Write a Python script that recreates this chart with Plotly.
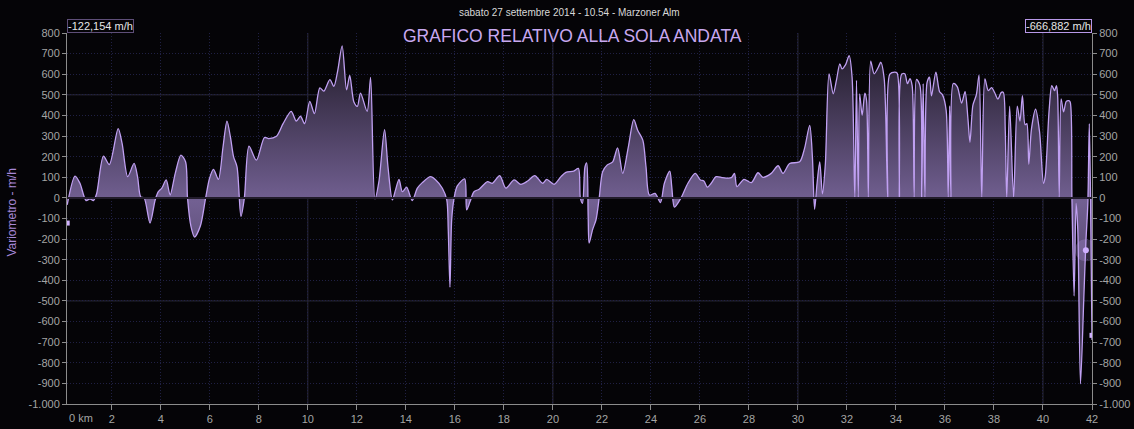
import plotly.graph_objects as go

# distanza (km) e variometro (m/h)
km = [
    0.18, 0.50, 0.70, 0.95, 1.11, 1.25, 1.38, 1.66, 1.90, 2.26, 2.42, 2.65, 2.91, 3.05, 3.18, 3.32,
    3.56, 3.77, 3.90, 4.04, 4.22, 4.38, 4.59, 4.82, 5.01, 5.09, 5.23, 5.38, 5.61, 5.83, 5.99, 6.15,
    6.35, 6.54, 6.70, 6.84, 6.97, 7.11, 7.27, 7.41, 7.60, 7.90, 8.23, 8.40, 8.72, 8.99, 9.32, 9.53,
    9.70, 9.87, 10.08, 10.27, 10.49, 10.65, 10.90, 11.06, 11.22, 11.40, 11.58, 11.71, 11.88, 12.02,
    12.15, 12.42, 12.56, 12.74, 12.90, 13.13, 13.27, 13.45, 13.58, 13.72, 13.86, 14.03, 14.26, 14.47,
    14.67, 15.01, 15.22, 15.49, 15.67, 15.73, 15.80, 15.87, 15.97, 16.10, 16.40, 16.48, 16.62, 16.78,
    16.99, 17.33, 17.53, 17.83, 18.08, 18.42, 18.69, 18.97, 19.26, 19.58, 19.75, 20.05, 20.33, 20.53,
    20.85, 21.04, 21.12, 21.21, 21.31, 21.38, 21.44, 21.48, 21.62, 21.76, 21.89, 22.03, 22.21, 22.44,
    22.64, 22.85, 23.08, 23.30, 23.46, 23.67, 23.80, 23.94, 24.17, 24.39, 24.55, 24.77, 24.85, 24.96,
    25.23, 25.51, 25.81, 26.02, 26.16, 26.30, 26.46, 26.66, 26.94, 27.28, 27.41, 27.51, 27.80, 28.10,
    28.37, 28.57, 28.91, 29.19, 29.39, 29.66, 30.07, 30.27, 30.48, 30.59, 30.68, 30.78, 30.89, 31.00,
    31.12, 31.27, 31.44, 31.57, 31.71, 31.80, 31.94, 32.09, 32.21, 32.32, 32.39, 32.46, 32.52, 32.62,
    32.73, 32.80, 32.87, 32.97, 33.11, 33.28, 33.38, 33.52, 33.66, 33.75, 33.95, 34.05, 34.14, 34.23,
    34.36, 34.47, 34.57, 34.66, 34.74, 34.84, 34.98, 35.05, 35.11, 35.18, 35.27, 35.37, 35.45, 35.63,
    35.78, 35.90, 36.05, 36.13, 36.19, 36.24, 36.34, 36.50, 36.68, 36.82, 36.94, 37.02, 37.14, 37.28,
    37.39, 37.50, 37.63, 37.77, 37.90, 38.03, 38.16, 38.30, 38.38, 38.46, 38.52, 38.64, 38.80, 38.95,
    39.06, 39.16, 39.27, 39.34, 39.42, 39.53, 39.70, 39.86, 40.02, 40.09, 40.25, 40.36, 40.47, 40.55,
    40.60, 40.66, 40.74, 40.84, 40.95, 41.05, 41.11, 41.18, 41.27, 41.35, 41.42, 41.53, 41.66, 41.75,
    41.83, 41.89, 41.94, 42.00,
]
vario = [
    -34, 106, 71, -13, -5, -13, 20, 203, 162, 336, 264, 103, 167, 103, 5, 0,
    -122, -10, 30, 47, 87, 14, 119, 207, 175, 0, -138, -190, -138, 0, 95, 138,
    90, 248, 372, 296, 199, 151, -90, 0, 251, 183, 293, 288, 299, 360, 420, 373,
    396, 360, 468, 409, 534, 518, 574, 541, 618, 738, 524, 594, 465, 444,
    508, 420, 585, -5, 79, 331, 151, -10, 39, 90, 30, 52, -13, 47,
    74, 103, 87, 47, -10, -154, -433, -106, 0, 58, 92, -58, -18, 30,
    42, 79, 71, 108, 47, 87, 66, 82, 108, 71, 90, 66, 103, 124,
    130, 143, 0, -26, 151, 170, -90, -219, -154, -106, 0, 127, 159, 175,
    243, 119, 248, 380, 328, 280, 151, 14, 22, -23, 71, 130, 55, -45,
    0, 71, 119, 87, 82, 52, 71, 103, 98, 98, 119, 55, 90, 74,
    122, 100, 119, 156, 119, 167, 175, 240, 352, 199, -55, 71, 175, 19,
    167, 602, 505, 570, 650, 626, 645, 690, 585, 0, 570, 0, 505, 400,
    508, 473, 0, 663, 602, 634, 658, 578, 0, 600, 610, 605, 0, 600,
    602, 554, 578, 545, 0, 575, 545, 0, 554, 0, 560, 586, 495, 610,
    515, 500, 423, 0, 447, 0, 555, 540, 460, 515, 380, 270, 450, 500,
    595, 0, 577, 520, 535, 510, 480, 512, 512, 330, 0, 445, 0, 445,
    372, 496, 355, 360, 163, 335, 430, 320, 71, 103, 425, 545, 520, 545,
    490, 0, 480, 417, 468, 472, 465, 0, -476, -27, -154, -902, -506, -216,
    -30, 360, 0, -690,
]

# cursori
start_km = [0.18]
start_val = [-122.154]
end_km = [42.0]
end_val = [-666.882]
cursor_km = [41.75]
cursor_val = [-254]

y_ticks = list(range(-1000, 900, 100))
y_labels = ['-1.000'] + [str(v) for v in range(-900, 900, 100)]
x_ticks = list(range(2, 43, 2))
major_x = [10, 20, 30, 40]
major_y = [500, -500]

bg = '#050407'
axis_col = '#8c8c8c'
minor_grid = '#202044'
tick_font = dict(family='Liberation Sans, Arial, sans-serif', size=11, color='#a4a4a4')

fig = go.Figure()

fig.add_trace(go.Scatter(
    x=km, y=vario,
    mode='lines',
    line=dict(color='#c0a0f2', width=1.3, shape='spline', smoothing=0.8),
    fill='tozeroy',
    fillgradient=dict(
        type='vertical', start=-1000, stop=800,
        colorscale=[[0, 'rgb(28,22,38)'], [0.556, 'rgb(114,96,146)'], [1, 'rgb(26,21,32)']],
    ),
    hoverinfo='skip',
))

fig.add_trace(go.Scatter(
    x=cursor_km, y=cursor_val, mode='markers',
    marker=dict(size=22, color='rgba(190,160,240,0.25)'), hoverinfo='skip'))
fig.add_trace(go.Scatter(
    x=cursor_km, y=cursor_val, mode='markers',
    marker=dict(size=6, color='#d0b0ff'), hoverinfo='skip'))
fig.add_trace(go.Scatter(
    x=start_km, y=start_val, mode='markers',
    marker=dict(size=5, symbol='square', color='#d0b0ff'), hoverinfo='skip'))
fig.add_trace(go.Scatter(
    x=end_km, y=end_val, mode='markers', yaxis='y2',
    marker=dict(size=5, symbol='square', color='#d0b0ff'), hoverinfo='skip'))

for x in major_x:
    fig.add_vline(x=x, line=dict(color='#2b2938', width=1), layer='below')
for y in major_y:
    fig.add_hline(y=y, line=dict(color='#2b2938', width=1), layer='below')
fig.add_hline(y=0, line=dict(color='#221c2b', width=2), layer='above')

yaxis_common = dict(
    range=[-1000, 800], tickvals=y_ticks, ticktext=y_labels,
    ticks='outside', ticklen=4, tickcolor=axis_col, tickfont=tick_font,
    showline=True, linecolor=axis_col, linewidth=1, zeroline=False, fixedrange=True,
)

fig.update_layout(
    width=1142, height=437,
    paper_bgcolor=bg, plot_bgcolor=bg,
    margin=dict(l=67, r=44, t=33, b=24),
    showlegend=False,
    font=dict(family='Liberation Sans, Arial, sans-serif', size=11, color='#a4a4a4'),
    xaxis=dict(
        range=[0.172, 42.0], tickvals=x_ticks, ticks='outside', ticklen=5,
        tickcolor=axis_col, tickfont=tick_font, showline=True, linecolor=axis_col,
        gridcolor=minor_grid, griddash='1px,2px', zeroline=False, fixedrange=True,
    ),
    yaxis=dict(**yaxis_common, showgrid=True, gridcolor=minor_grid, griddash='1px,2px'),
    yaxis2=dict(**yaxis_common, overlaying='y', side='right', showgrid=False),
    annotations=[
        dict(text='sabato 27 settembre 2014 - 10.54 - Marzoner Alm', xref='paper', yref='paper',
             x=0.4907, y=1.056, xanchor='center', yanchor='middle', showarrow=False,
             font=dict(size=10, color='#d8d8d8')),
        dict(text='GRAFICO RELATIVO ALLA SOLA ANDATA', xref='paper', yref='paper',
             x=0.4927, y=0.992, xanchor='center', yanchor='middle', showarrow=False,
             font=dict(size=17.5, color='#c8a8f0')),
        dict(text='Variometro - m/h', xref='paper', yref='paper', x=-0.054, y=0.515,
             xanchor='center', yanchor='middle', textangle=-90, showarrow=False,
             font=dict(size=12, color='#a888d8')),
        dict(text='0 km', xref='paper', yref='paper', x=0, y=-0.0375, xanchor='left',
             yanchor='middle', showarrow=False, font=tick_font),
        dict(text='-122,154 m/h', xref='paper', yref='paper', x=0, y=1, xanchor='left',
             yanchor='bottom', showarrow=False, font=dict(size=11, color='#e6e6e6'),
             bordercolor='#5e4e78', borderwidth=1, borderpad=0, bgcolor=bg),
        dict(text='-666,882 m/h', xref='paper', yref='paper', x=1, y=1, xanchor='right',
             yanchor='bottom', showarrow=False, font=dict(size=11, color='#e6e6e6'),
             bordercolor='#b898e8', borderwidth=1, borderpad=0, bgcolor=bg),
    ],
)

# niente margini del body
fix_page = (
    "document.documentElement.style.overflow='hidden';"
    "document.body.style.margin='0';"
    "document.body.style.overflow='hidden';"
    "document.body.style.background='" + bg + "';"
)

fig.write_html("out.html", config={'displayModeBar': False, 'responsive': False},
               post_script=fix_page)
